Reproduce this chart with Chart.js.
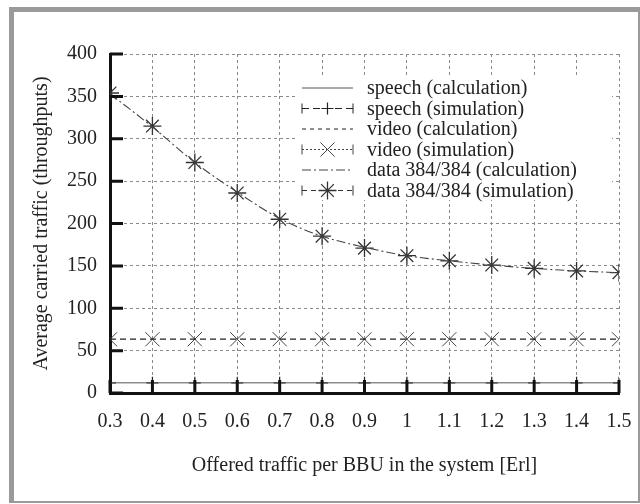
<!DOCTYPE html>
<html>
<head>
<meta charset="utf-8">
<script src="https://cdn.jsdelivr.net/npm/chart.js@4.4.1/dist/chart.umd.min.js"></script>
<style>
html, body { margin: 0; padding: 0; background: #fff; }
#wrap { position: relative; width: 640px; height: 504px; }
#wrap canvas { position: absolute; left: 0; top: 0; }
#frame {
    position: absolute; left: 9px; top: 7px; width: 624px; height: 489px;
    border-style: solid; border-color: #9a9a9a; border-width: 5px 2px 2px 5px;
    pointer-events: none;
}
</style>
</head>
<body>
<div id="wrap">
    <canvas id="chart" width="640" height="504"></canvas>
    <div id="frame"></div>
</div>
<script>
// ── Values ─────────────────────────────────────────────────────────────────
var offered     = [0.3, 0.4, 0.5, 0.6, 0.7, 0.8, 0.9, 1.0, 1.1, 1.2, 1.3, 1.4, 1.5];
var xTickLabels = ['0.3', '0.4', '0.5', '0.6', '0.7', '0.8', '0.9', '1', '1.1', '1.2', '1.3', '1.4', '1.5'];
var yTicks      = [0, 50, 100, 150, 200, 250, 300, 350, 400];

var speechCalc = [12, 12, 12, 12, 12, 12, 12, 12, 12, 12, 12, 12, 12];
var speechSim  = [12, 12, 12, 12, 12, 12, 12, 12, 12, 12, 12, 12, 12];
var videoCalc  = [63.5, 63.5, 63.5, 63.5, 63.5, 63.5, 63.5, 63.5, 63.5, 63.5, 63.5, 63.5, 63.5];
var videoSim   = [63.4, 63.4, 63.5, 63.4, 63.5, 63.4, 63.4, 63.5, 63.4, 63.5, 63.4, 63.5, 63.4];
var dataCalc   = [353, 314, 272, 237, 206, 185, 172, 162, 156, 151, 147, 144, 142];
var dataSim    = [354, 315, 272, 236, 205, 185, 171, 162, 156, 151, 147, 144, 142];

var FONT = "'Liberation Serif', 'Times New Roman', serif";
var TEXT = '#222';
var FSIZE = 20;

function pts(ys) {
    return offered.map(function (x, i) { return { x: x, y: ys[i] }; });
}

// ── Thick inward tick marks (gnuplot style) ────────────────────────────────
var innerTicks = {
    id: 'innerTicks',
    afterDatasetsDraw: function (chart) {
        var ctx = chart.ctx, a = chart.chartArea;
        var xs = chart.scales.x, ys = chart.scales.y;
        ctx.save();
        ctx.strokeStyle = '#111';
        ctx.lineWidth = 3;
        ctx.beginPath();
        yTicks.forEach(function (v) {
            var p = ys.getPixelForValue(v);
            ctx.moveTo(a.left, p); ctx.lineTo(a.left + 13, p);
        });
        offered.forEach(function (v) {
            var p = xs.getPixelForValue(v);
            ctx.moveTo(p, a.bottom); ctx.lineTo(p, a.bottom - 13);
        });
        ctx.stroke();
        ctx.restore();
    }
};

// ── Legend box inside the plot ─────────────────────────────────────────────
var legendBox = {
    id: 'legendBox',
    afterDraw: function (chart) {
        var ctx = chart.ctx;
        var x0 = 302, x1 = 353, tx = 367;
        ctx.save();
        ctx.fillStyle = '#fff';
        ctx.fillRect(296, 78, 316, 122);
        chart.data.datasets.forEach(function (ds, i) {
            var y = 88 + i * 20.5;
            ctx.strokeStyle = ds.legendColor || ds.borderColor;
            ctx.lineWidth = 1;
            ctx.setLineDash(ds.legendDash || ds.borderDash || []);
            ctx.beginPath();
            ctx.moveTo(x0, y); ctx.lineTo(x1, y);
            ctx.stroke();
            ctx.setLineDash([]);
            if (ds.pointStyle) {
                // end caps like error bars
                ctx.beginPath();
                ctx.moveTo(x0, y - 5); ctx.lineTo(x0, y + 5);
                ctx.moveTo(x1, y - 5); ctx.lineTo(x1, y + 5);
                ctx.stroke();
                ctx.strokeStyle = ds.borderColor;
                ctx.lineWidth = ds.pointBorderWidth;
                if (Chart.helpers && Chart.helpers.drawPoint) {
                    Chart.helpers.drawPoint(ctx, {
                        pointStyle: ds.pointStyle,
                        radius: ds.pointRadius,
                        borderWidth: ds.pointBorderWidth,
                        rotation: 0
                    }, (x0 + x1) / 2, y);
                }
            }
            ctx.fillStyle = TEXT;
            ctx.font = FSIZE + 'px ' + FONT;
            ctx.textBaseline = 'middle';
            ctx.textAlign = 'left';
            ctx.fillText(ds.label, tx, y + 1);
        });
        ctx.restore();
    }
};

new Chart(document.getElementById('chart'), {
    type: 'line',
    data: {
        datasets: [
            {
                label: 'speech (calculation)',
                data: pts(speechCalc),
                borderColor: '#555',
                borderWidth: 1,
                pointRadius: 0
            },
            {
                label: 'speech (simulation)',
                data: pts(speechSim),
                showLine: false,
                borderColor: '#222',
                pointStyle: 'cross',
                pointRadius: 6,
                pointBorderWidth: 1.2,
                legendDash: [7, 4]
            },
            {
                label: 'video (calculation)',
                data: pts(videoCalc),
                borderColor: '#222',
                borderWidth: 1.2,
                borderDash: [6, 4],
                pointRadius: 0,
                legendDash: [4, 4]
            },
            {
                label: 'video (simulation)',
                data: pts(videoSim),
                showLine: false,
                borderColor: '#444',
                pointStyle: 'crossRot',
                pointRadius: 10,
                pointBorderWidth: 1,
                legendDash: [2, 2]
            },
            {
                label: 'data 384/384 (calculation)',
                data: pts(dataCalc),
                borderColor: '#444',
                borderWidth: 1.1,
                borderDash: [9, 3, 2, 3],
                cubicInterpolationMode: 'monotone',
                pointRadius: 0
            },
            {
                label: 'data 384/384 (simulation)',
                data: pts(dataSim),
                showLine: false,
                borderColor: '#333',
                pointStyle: 'star',
                pointRadius: 9,
                pointBorderWidth: 1.3,
                legendDash: [5, 4]
            }
        ]
    },
    options: {
        responsive: false,
        animation: false,
        layout: { padding: { left: 26, right: 21, top: 54, bottom: 22 } },
        plugins: {
            legend: { display: false },
            tooltip: { enabled: false }
        },
        scales: {
            x: {
                type: 'linear',
                min: 0.3,
                max: 1.5,
                afterBuildTicks: function (s) {
                    s.ticks = offered.map(function (v) { return { value: v }; });
                },
                afterFit: function (s) {
                    s.height = 89;
                    s.paddingLeft = 0;
                    s.paddingRight = 0;
                },
                ticks: {
                    autoSkip: false,
                    maxRotation: 0,
                    padding: 17,
                    color: TEXT,
                    font: { family: FONT, size: FSIZE },
                    callback: function (v, i) { return xTickLabels[i]; }
                },
                grid: { color: '#8a8a8a', lineWidth: 1, drawTicks: false },
                border: { display: true, color: '#111', width: 3, dash: [3, 3] },
                title: {
                    display: true,
                    text: 'Offered traffic per BBU in the system [Erl]',
                    color: TEXT,
                    font: { family: FONT, size: FSIZE },
                    padding: { top: 4, bottom: 4 }
                }
            },
            y: {
                type: 'linear',
                min: 0,
                max: 400,
                afterBuildTicks: function (s) {
                    s.ticks = yTicks.map(function (v) { return { value: v }; });
                },
                afterFit: function (s) { s.width = 84; },
                ticks: {
                    autoSkip: false,
                    padding: 13,
                    color: TEXT,
                    font: { family: FONT, size: FSIZE }
                },
                grid: { color: '#8a8a8a', lineWidth: 1, drawTicks: false },
                border: { display: true, color: '#111', width: 3, dash: [3, 3] },
                title: {
                    display: true,
                    text: 'Average carried traffic (throughputs)',
                    color: TEXT,
                    font: { family: FONT, size: FSIZE },
                    padding: { top: 4, bottom: 4 }
                }
            }
        }
    },
    plugins: [innerTicks, legendBox]
});
</script>
</body>
</html>
